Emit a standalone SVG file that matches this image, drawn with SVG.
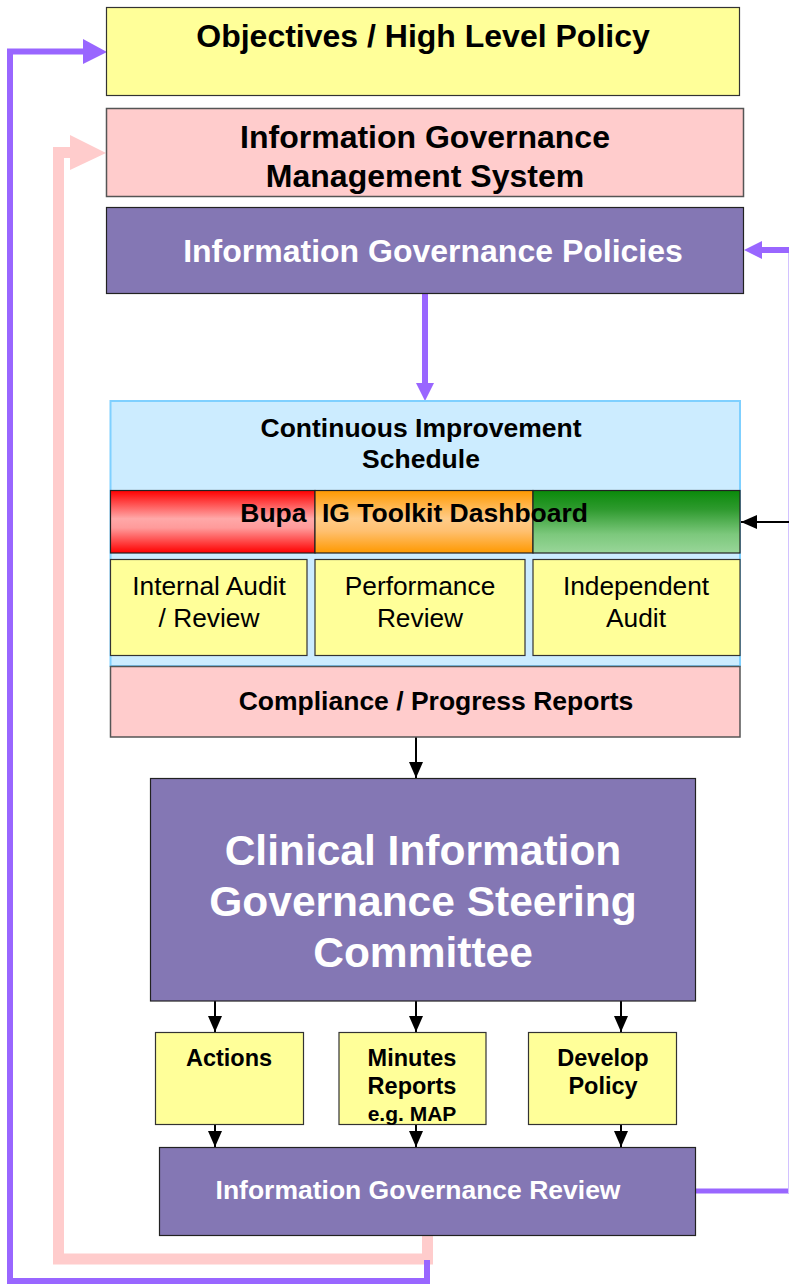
<svg xmlns="http://www.w3.org/2000/svg" width="789" height="1285" viewBox="0 0 789 1285">
<defs>
<linearGradient id="gRed" x1="0" y1="0" x2="0" y2="1">
<stop offset="0" stop-color="#FF0000"/>
<stop offset="0.45" stop-color="#FFA8A8"/>
<stop offset="0.6" stop-color="#FF9A9A"/>
<stop offset="1" stop-color="#FF0000"/>
</linearGradient>
<linearGradient id="gOrange" x1="0" y1="0" x2="0" y2="1">
<stop offset="0" stop-color="#FF9900"/>
<stop offset="0.45" stop-color="#FFCC88"/>
<stop offset="0.65" stop-color="#FFC070"/>
<stop offset="1" stop-color="#FF9900"/>
</linearGradient>
<linearGradient id="gGreen" x1="0" y1="0" x2="0" y2="1">
<stop offset="0" stop-color="#0A8A0A"/>
<stop offset="0.3" stop-color="#2E9A2E"/>
<stop offset="0.7" stop-color="#7CC87C"/>
<stop offset="1" stop-color="#99D699"/>
</linearGradient>
<marker id="ah" markerUnits="userSpaceOnUse" markerWidth="16" markerHeight="14" refX="16" refY="7" orient="auto">
<path d="M0,0 L16,7 L0,14 z" fill="#000"/>
</marker>
<style>
text{font-family:"Liberation Sans",Arial,sans-serif;text-anchor:middle}
.b{font-weight:bold}
.w{fill:#fff}
.yel{fill:#FFFF99;stroke:#333;stroke-width:1.2}
.pink{fill:#FFCCCC;stroke:#555;stroke-width:1.5}
.purp{fill:#8477B4;stroke:#222;stroke-width:1.2}
.blk{stroke:#000;stroke-width:2;fill:none;marker-end:url(#ah)}
.pl{stroke:#9966FF;fill:none;stroke-width:6}
.pk{stroke:#FFCCCC;fill:none;stroke-width:11}
</style>
</defs>

<g id="connectors">
<path class="pk" d="M427.5,1236 V1259 H58.5 V152.5 H72"/>
<polygon points="70,135 106,153 70,170" fill="#FFCCCC"/>
<path class="pl" d="M427,1260 V1281 H10 V51.5 H84"/>
<polygon points="83,39 107,52 83,64" fill="#9966FF"/>
<line class="pl" x1="425" y1="293" x2="425" y2="385"/>
<polygon points="416,383 434,383 425,401" fill="#9966FF"/>
<line x1="695" y1="1191" x2="789" y2="1191" stroke="#9966FF" stroke-width="5"/>
<line x1="788.5" y1="250" x2="788.5" y2="1193" stroke="#D2C2FF" stroke-width="1"/>
<line x1="789" y1="250" x2="760" y2="250" stroke="#9966FF" stroke-width="6"/>
<polygon points="762,241 744,250 762,259" fill="#9966FF"/>
<line class="blk" x1="789" y1="522" x2="741" y2="522"/>
<line class="blk" x1="416" y1="737" x2="416" y2="778"/>
<line class="blk" x1="215" y1="1001" x2="215" y2="1032"/>
<line class="blk" x1="416" y1="1001" x2="416" y2="1032"/>
<line class="blk" x1="621" y1="1001" x2="621" y2="1032"/>
<line class="blk" x1="215" y1="1124" x2="215" y2="1147"/>
<line class="blk" x1="416" y1="1124" x2="416" y2="1147"/>
<line class="blk" x1="621" y1="1124" x2="621" y2="1147"/>
</g>

<g id="objectives">
<rect class="yel" x="106.5" y="7.5" width="633" height="88"/>
<text class="b" x="423" y="47" font-size="32">Objectives / High Level Policy</text>
</g>

<g id="igms">
<rect class="pink" x="106.5" y="108.5" width="637" height="88"/>
<text class="b" x="425" y="148" font-size="32">Information Governance</text>
<text class="b" x="425" y="187" font-size="32">Management System</text>
</g>

<g id="ig-policies">
<rect class="purp" x="106.5" y="207.5" width="637" height="86"/>
<text class="b w" x="433" y="262" font-size="32">Information Governance Policies</text>
</g>

<g id="ci-schedule">
<rect x="110.5" y="401" width="629.5" height="265" fill="#CCECFF" stroke="#7FD0FF" stroke-width="2"/>
<text class="b" x="421" y="437" font-size="26.5">Continuous Improvement</text>
<text class="b" x="421" y="468" font-size="26.5">Schedule</text>
</g>

<g id="dashboard">
<rect x="110.5" y="490.5" width="204.5" height="62.5" fill="url(#gRed)" stroke="#222" stroke-width="1.2"/>
<rect x="315" y="490.5" width="218" height="62.5" fill="url(#gOrange)" stroke="#222" stroke-width="1.2"/>
<rect x="533" y="490.5" width="207" height="62.5" fill="url(#gGreen)" stroke="#222" stroke-width="1.2"/>
<text class="b" font-size="26.5" y="522"><tspan x="306.5" text-anchor="end">Bupa</tspan><tspan x="322" text-anchor="start">IG Toolkit Dashboard</tspan></text>
</g>

<g id="internal-audit">
<rect class="yel" x="110.5" y="559.5" width="196.5" height="96"/>
<text x="209" y="595" font-size="26.3">Internal Audit</text>
<text x="209" y="627" font-size="26.3">/ Review</text>
</g>

<g id="performance-review">
<rect class="yel" x="315" y="559.5" width="210" height="96"/>
<text x="420" y="595" font-size="26.3">Performance</text>
<text x="420" y="627" font-size="26.3">Review</text>
</g>

<g id="independent-audit">
<rect class="yel" x="533" y="559.5" width="207" height="96"/>
<text x="636" y="595" font-size="26.3">Independent</text>
<text x="636" y="627" font-size="26.3">Audit</text>
</g>

<g id="compliance">
<rect class="pink" x="110.5" y="666.5" width="629.5" height="70.5"/>
<text class="b" x="436" y="710" font-size="26.5">Compliance / Progress Reports</text>
</g>

<g id="steering">
<rect class="purp" x="150.5" y="778.5" width="545" height="222.5"/>
<text class="b w" x="423" y="865" font-size="42.5">Clinical Information</text>
<text class="b w" x="423" y="916" font-size="42.5">Governance Steering</text>
<text class="b w" x="423" y="967" font-size="42.5">Committee</text>
</g>

<g id="actions">
<rect class="yel" x="155.5" y="1032.5" width="148" height="92"/>
<text class="b" x="229" y="1066" font-size="23.5">Actions</text>
</g>

<g id="minutes">
<rect class="yel" x="339" y="1032.5" width="147" height="92"/>
<text class="b" x="412" y="1066" font-size="23.5">Minutes</text>
<text class="b" x="412" y="1094" font-size="23.5">Reports</text>
<text class="b" x="412" y="1121" font-size="21">e.g. MAP</text>
</g>

<g id="develop-policy">
<rect class="yel" x="528.5" y="1032.5" width="148" height="92"/>
<text class="b" x="603" y="1066" font-size="23.5">Develop</text>
<text class="b" x="603" y="1094" font-size="23.5">Policy</text>
</g>

<g id="ig-review">
<rect class="purp" x="159.5" y="1147.5" width="536" height="88"/>
<text class="b w" x="418" y="1199" font-size="26.5">Information Governance Review</text>
</g>
</svg>
